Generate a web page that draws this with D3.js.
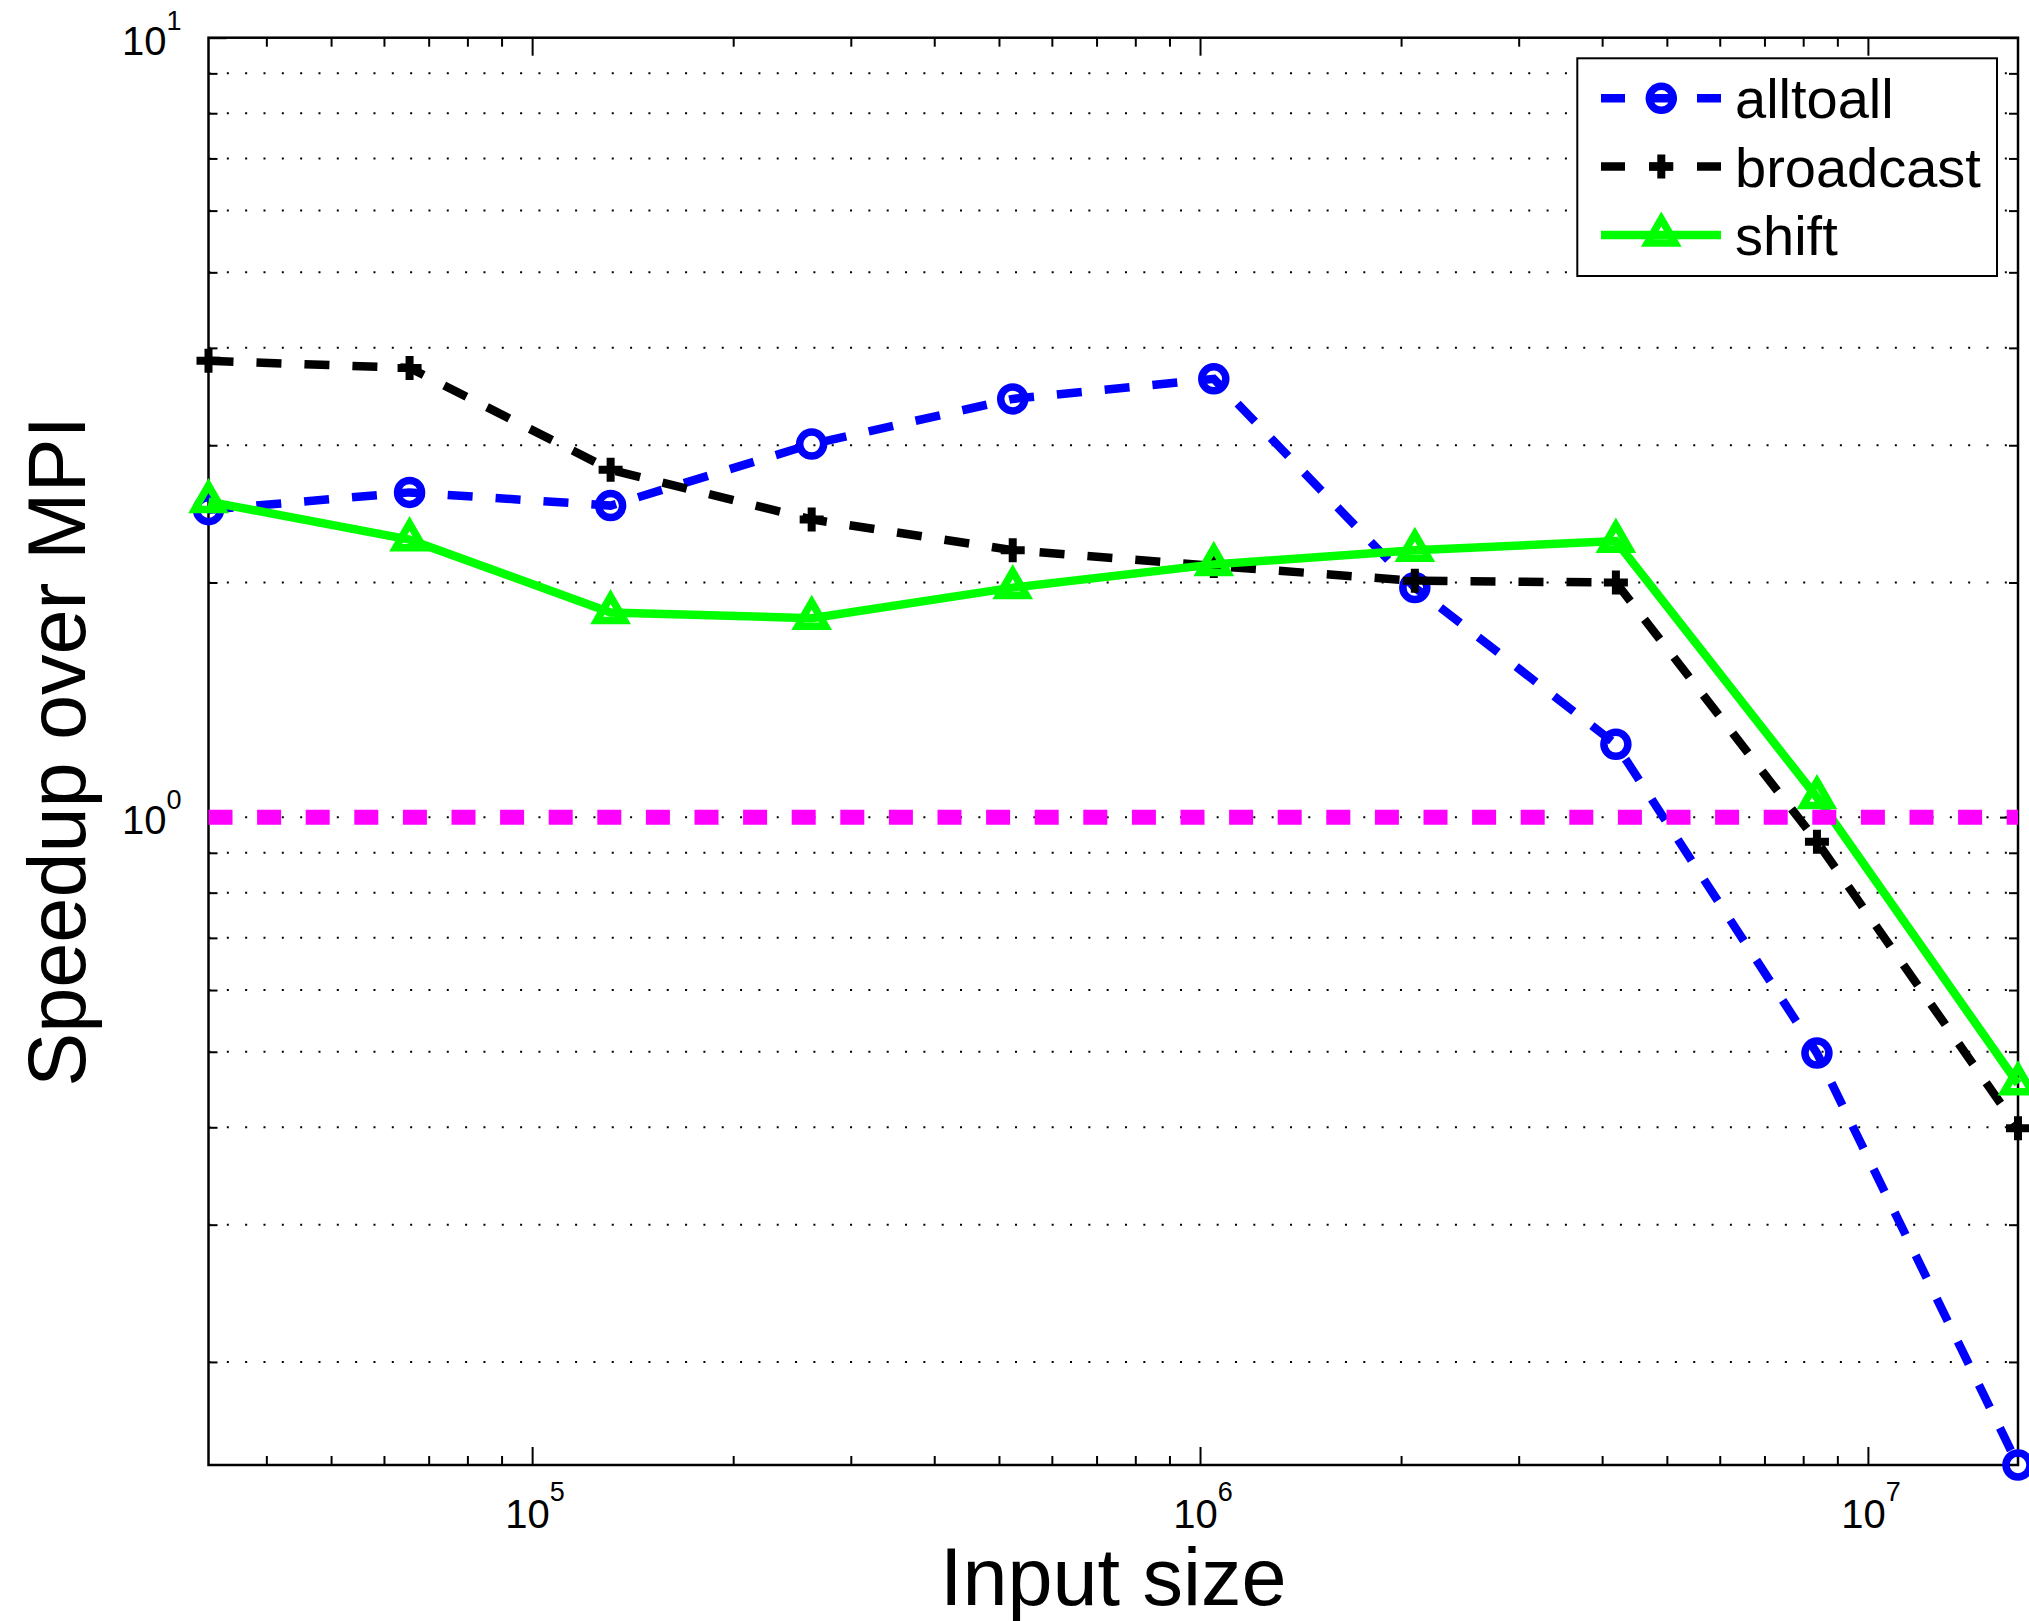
<!DOCTYPE html>
<html>
<head>
<meta charset="utf-8">
<script src="https://cdn.jsdelivr.net/npm/d3@7"></script>
<style>
  html, body { margin: 0; padding: 0; background: #fff; }
  svg { display: block; font-family: "Liberation Sans", Arial, Helvetica, sans-serif; }
</style>
</head>
<body>
<div id="chart"></div>
<script>
// Input sizes (2^15 .. 2^24) and speedup over MPI for each collective
const inputSizes = [32768, 65536, 131072, 262144, 524288, 1048576, 2097152, 4194304, 8388608, 16777216];
const alltoall  = [2.48, 2.61, 2.51, 3.01, 3.44, 3.65, 1.97, 1.24, 0.498, 0.1475];
const broadcast = [3.85, 3.77, 2.79, 2.41, 2.20, 2.10, 2.01, 2.00, 0.93, 0.399];
const shift     = [2.54, 2.27, 1.83, 1.80, 1.97, 2.11, 2.20, 2.26, 1.06, 0.455];
const seriesNames = ["alltoall", "broadcast", "shift"];
const mpiBaseline = 1;

const xMajorTicks = [1e5, 1e6, 1e7];
const xMinorTicks = [4e4, 5e4, 6e4, 7e4, 8e4, 9e4,
                     2e5, 3e5, 4e5, 5e5, 6e5, 7e5, 8e5, 9e5,
                     2e6, 3e6, 4e6, 5e6, 6e6, 7e6, 8e6, 9e6];
const xTickExponents = ["5", "6", "7"];
const yMajorTicks = [1, 10];
const yMinorTicks = [0.2, 0.3, 0.4, 0.5, 0.6, 0.7, 0.8, 0.9, 2, 3, 4, 5, 6, 7, 8, 9];
const yTickExponents = ["0", "1"];
const yDomain = [0.1475, 10];

const styles = {
    alltoall:  { color: "#0000ff", dash: "25,23", marker: "circle" },
    broadcast: { color: "#000000", dash: "25,23", marker: "plus" },
    shift:     { color: "#00ff00", dash: null,    marker: "triangle" }
};

const W = 2029, H = 1621;
const margin = { top: 37.7, right: 11, bottom: 156, left: 208.5 };
const width = W - margin.left - margin.right;
const height = H - margin.top - margin.bottom;

const svg = d3.select("#chart").append("svg")
    .attr("width", W)
    .attr("height", H);

const g = svg.append("g")
    .attr("transform", `translate(${margin.left},${margin.top})`);

const x = d3.scaleLog().domain([inputSizes[0], inputSizes[inputSizes.length - 1]]).range([0, width]);
const y = d3.scaleLog().domain(yDomain).range([height, 0]);

// dotted y grid
g.selectAll(".grid")
    .data(yMinorTicks.concat([1]))
    .enter().append("line")
    .attr("class", "grid")
    .attr("x1", 0).attr("x2", width)
    .attr("y1", d => y(d)).attr("y2", d => y(d))
    .attr("stroke", "#000")
    .attr("stroke-width", 2)
    .attr("stroke-dasharray", "2,16.33");

// inward ticks on all four sides
function styleAxis(sel) {
    sel.select(".domain").remove();
    sel.selectAll("line").attr("stroke-width", 2);
    sel.selectAll("text").remove();
}
g.append("g").attr("transform", `translate(0,${height})`)
    .call(d3.axisBottom(x).tickValues(xMinorTicks).tickSize(-9)).call(styleAxis);
g.append("g").attr("transform", `translate(0,${height})`)
    .call(d3.axisBottom(x).tickValues(xMajorTicks).tickSize(-18)).call(styleAxis);
g.append("g")
    .call(d3.axisTop(x).tickValues(xMinorTicks).tickSize(-9)).call(styleAxis);
g.append("g")
    .call(d3.axisTop(x).tickValues(xMajorTicks).tickSize(-18)).call(styleAxis);
g.append("g")
    .call(d3.axisLeft(y).tickValues(yMinorTicks).tickSize(-9)).call(styleAxis);
g.append("g")
    .call(d3.axisLeft(y).tickValues(yMajorTicks).tickSize(-18)).call(styleAxis);
g.append("g").attr("transform", `translate(${width},0)`)
    .call(d3.axisRight(y).tickValues(yMinorTicks).tickSize(-9)).call(styleAxis);
g.append("g").attr("transform", `translate(${width},0)`)
    .call(d3.axisRight(y).tickValues(yMajorTicks).tickSize(-18)).call(styleAxis);

g.append("rect")
    .attr("width", width).attr("height", height)
    .attr("fill", "none").attr("stroke", "#000").attr("stroke-width", 2.5);

// tick labels, 10 with superscript exponent
xMajorTicks.forEach((t, i) => {
    const txt = g.append("text")
        .attr("x", x(t) + 3)
        .attr("y", height + 63)
        .attr("text-anchor", "middle")
        .attr("font-size", 40);
    txt.append("tspan").text("10");
    txt.append("tspan").attr("dy", -27).attr("font-size", 27).text(xTickExponents[i]);
});
yMajorTicks.forEach((t, i) => {
    const txt = g.append("text")
        .attr("x", -27)
        .attr("y", y(t) + 17)
        .attr("text-anchor", "end")
        .attr("font-size", 40);
    txt.append("tspan").text("10");
    txt.append("tspan").attr("dy", -25).attr("font-size", 27).text(yTickExponents[i]);
});

// axis titles
g.append("text")
    .attr("x", width / 2)
    .attr("y", height + 140)
    .attr("text-anchor", "middle")
    .attr("font-size", 81)
    .text("Input size");
g.append("text")
    .attr("transform", "rotate(-90)")
    .attr("x", -height / 2)
    .attr("y", 85 - margin.left)
    .attr("text-anchor", "middle")
    .attr("font-size", 81)
    .text("Speedup over MPI");

// markers
function drawMarker(sel, kind, color) {
    if (kind === "circle") {
        sel.append("circle").attr("r", 12)
            .attr("fill", "none").attr("stroke", color).attr("stroke-width", 7.5);
    } else if (kind === "plus") {
        sel.append("path").attr("d", "M-12,0H12M0,-12V12")
            .attr("fill", "none").attr("stroke", color).attr("stroke-width", 8);
    } else {
        sel.append("path").attr("d", d3.symbol(d3.symbolTriangle, 333)())
            .attr("fill", "none").attr("stroke", color).attr("stroke-width", 7.5)
            .attr("stroke-linejoin", "miter");
    }
}

const seriesValues = { alltoall, broadcast, shift };
const line = d3.line().x(d => x(d.x)).y(d => y(d.y));

seriesNames.forEach(name => {
    const st = styles[name];
    const pts = inputSizes.map((s, i) => ({ x: s, y: seriesValues[name][i] }));
    g.append("path")
        .datum(pts)
        .attr("d", line)
        .attr("fill", "none")
        .attr("stroke", st.color)
        .attr("stroke-width", 8.5)
        .attr("stroke-dasharray", st.dash);
    g.selectAll(`.m-${name}`)
        .data(pts)
        .enter().append("g")
        .attr("class", `m-${name}`)
        .attr("transform", d => `translate(${x(d.x)},${y(d.y)})`)
        .each(function () { drawMarker(d3.select(this), st.marker, st.color); });
});

// MPI baseline
g.append("line")
    .attr("x1", 0).attr("x2", width)
    .attr("y1", y(mpiBaseline)).attr("y2", y(mpiBaseline))
    .attr("stroke", "#ff00ff")
    .attr("stroke-width", 15)
    .attr("stroke-dasharray", "24,24.6");

// legend
const legend = svg.append("g").attr("transform", "translate(1577.3,58.3)");
legend.append("rect")
    .attr("width", 419.7).attr("height", 217.7)
    .attr("fill", "#fff").attr("stroke", "#000").attr("stroke-width", 2);
seriesNames.forEach((name, i) => {
    const st = styles[name];
    const cy = 40 + i * 68.3;
    legend.append("line")
        .attr("x1", 23.7).attr("x2", 143.7)
        .attr("y1", cy).attr("y2", cy)
        .attr("stroke", st.color)
        .attr("stroke-width", 8.5)
        .attr("stroke-dasharray", st.dash ? "24,24" : null);
    drawMarker(legend.append("g").attr("transform", `translate(84,${cy})`), st.marker, st.color);
    legend.append("text")
        .attr("x", 157.7)
        .attr("y", cy + 20)
        .attr("font-size", 56)
        .text(name);
});
</script>
</body>
</html>
